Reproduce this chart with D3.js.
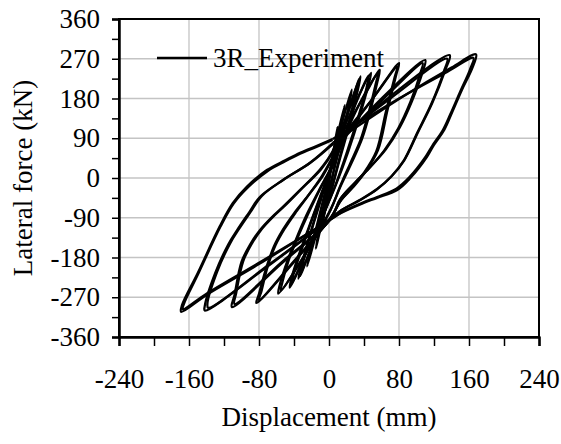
<!DOCTYPE html>
<html>
<head>
<meta charset="utf-8">
<script src="https://cdn.jsdelivr.net/npm/d3@7"></script>
<style>
  body { margin: 0; background: #fff; }
  text { font-family: "Liberation Serif", "Times New Roman", serif; fill: #000; }
</style>
</head>
<body>
<div id="chart"></div>
<script>
// tick values
const xTicks = [-240, -160, -80, 0, 80, 160, 240];
const xMinor = [-200, -120, -40, 40, 120, 200];
const yTicks = [-360, -270, -180, -90, 0, 90, 180, 270, 360];
const yMinor = [-315, -225, -135, -45, 45, 135, 225, 315];

// load cycles: [displacement mm, force kN]
const cycle01 = [[0,0],[5,60],[10,115],[8,95],[3,30],[-2,-40],[-8,-110],[-6,-90],[-1,-20],[3,40]];
const cycle02 = [[3,40],[10,100],[18,165],[16,140],[9,60],[0,-40],[-8,-100],[-15,-160],[-13,-135],[-6,-60],[2,20],[8,75]];
const cycle03 = [[8,75],[17,140],[26,200],[24,175],[16,100],[6,20],[-5,-60],[-15,-130],[-25,-200],[-22,-170],[-13,-100],[-3,-20],[6,50],[12,95]];
const cycle04 = [[12,95],[24,165],[36,230],[33,200],[24,125],[12,40],[0,-45],[-15,-130],[-35,-228],[-32,-200],[-22,-130],[-10,-50],[3,30],[14,100]];
const cycle04b = [[14,100],[24,160],[34,224],[31,196],[22,120],[11,38],[0,-48],[-15,-128],[-33,-222],[-30,-195],[-21,-126],[-9,-48],[3,30],[14,100]];
const cycle05 = [[14,100],[30,170],[48,238],[45,210],[35,140],[22,60],[8,-15],[-5,-75],[-25,-165],[-45,-248],[-42,-220],[-32,-160],[-20,-95],[-6,-20],[8,50],[18,110]];
const cycle05b = [[18,95],[30,165],[45,232],[43,205],[33,136],[20,56],[7,-18],[-5,-77],[-24,-160],[-43,-240],[-40,-214],[-30,-155],[-19,-92],[-5,-18],[8,48],[14,100]];
const cycle06 = [[18,110],[40,185],[58,245],[55,215],[47,150],[38,90],[26,35],[13,-20],[2,-70],[-28,-175],[-58,-262],[-56,-240],[-48,-190],[-38,-140],[-26,-85],[-12,-30],[4,30],[20,100]];
const cycle06b = [[15,82],[38,180],[56,238],[53,210],[45,146],[36,86],[24,32],[12,-22],[2,-72],[-27,-172],[-55,-255],[-53,-234],[-46,-186],[-36,-136],[-24,-82],[-11,-28],[4,28],[18,95]];
const cycle07 = [[20,100],[50,180],[80,260],[77,235],[67,155],[56,63],[42,15],[28,-20],[14,-50],[2,-90],[-40,-190],[-83,-283],[-80,-262],[-72,-205],[-63,-155],[-53,-118],[-40,-80],[-24,-40],[-8,5],[5,50],[15,85]];
const cycle07b = [[8,78],[48,175],[78,252],[75,228],[65,150],[54,60],[40,12],[26,-22],[13,-52],[2,-90],[-40,-188],[-80,-276],[-77,-255],[-70,-200],[-61,-152],[-51,-116],[-38,-78],[-23,-38],[-7,5],[5,48],[15,82]];
const cycle08 = [[15,85],[60,180],[110,267],[107,240],[95,175],[81,115],[65,65],[47,25],[30,-10],[14,-45],[1,-95],[-55,-195],[-111,-292],[-108,-265],[-100,-190],[-90,-150],[-79,-118],[-66,-90],[-53,-66],[-33,-27],[-10,20],[4,60],[8,80]];
const cycle08b = [[8,78],[60,175],[107,260],[104,235],[93,172],[79,112],[63,62],[46,22],[29,-12],[13,-47],[1,-95],[-55,-192],[-108,-285],[-106,-260],[-98,-188],[-88,-148],[-77,-116],[-64,-88],[-51,-64],[-32,-26],[-9,20],[4,58],[8,78]];
const cycle09 = [[8,80],[70,185],[138,278],[133,245],[118,170],[102,105],[86,40],[72,5],[55,-25],[35,-50],[15,-72],[0,-95],[-70,-200],[-142,-300],[-142,-290],[-130,-215],[-115,-150],[-105,-118],[-92,-80],[-79,-43],[-53,-5],[-22,34],[5,80]];
const cycle09b = [[5,80],[70,180],[135,270],[131,240],[117,168],[101,103],[85,38],[71,3],[54,-27],[34,-52],[14,-73],[0,-95],[-70,-198],[-138,-294],[-139,-285],[-128,-213],[-113,-148],[-103,-116],[-90,-78],[-77,-41],[-52,-4],[-21,35],[5,78]];
const cycle10 = [[5,80],[85,185],[140,250],[168,280],[164,250],[152,200],[141,150],[132,110],[120,75],[112,48],[93,0],[78,-27],[55,-45],[39,-57],[15,-78],[1,-95],[-80,-195],[-140,-265],[-169,-303],[-168,-288],[-150,-215],[-125,-110],[-110,-57],[-94,-20],[-71,18],[-50,40],[-33,57],[-15,72],[4,88]];
const cycle10b = [[4,88],[80,180],[135,240],[165,272],[161,245],[150,196],[139,146],[130,108],[118,73],[110,47],[92,2],[77,-24],[55,-43],[38,-56],[15,-77],[1,-95],[-80,-192],[-140,-262],[-167,-297],[-166,-286],[-149,-215],[-124,-110],[-109,-58],[-93,-22],[-70,16],[-50,38],[-33,55],[-15,70],[4,86]];

const cycles = [cycle01, cycle02, cycle03, cycle04, cycle04b, cycle05, cycle05b, cycle06, cycle06b,
    cycle07, cycle07b, cycle08, cycle08b, cycle09, cycle09b, cycle10, cycle10b];

const width = 561;
const height = 444;
const margin = {top: 19, right: 22, bottom: 107, left: 119};

const svg = d3.select("#chart")
    .append("svg")
    .attr("width", width)
    .attr("height", height);

const x = d3.scaleLinear()
    .domain([-240, 240])
    .range([margin.left, width - margin.right]);

const y = d3.scaleLinear()
    .domain([-360, 360])
    .range([height - margin.bottom, margin.top]);

// grid
const grid = svg.append("g").attr("class", "grid");
grid.selectAll(".gx")
    .data(xTicks)
    .enter()
    .append("line")
    .attr("x1", d => x(d)).attr("x2", d => x(d))
    .attr("y1", y(-360)).attr("y2", y(360))
    .attr("stroke", "#c4c4c4")
    .attr("stroke-width", 1.3);
grid.selectAll(".gy")
    .data(yTicks)
    .enter()
    .append("line")
    .attr("x1", x(-240)).attr("x2", x(240))
    .attr("y1", d => y(d)).attr("y2", d => y(d))
    .attr("stroke", "#c4c4c4")
    .attr("stroke-width", 1.3);

// hysteresis loops
const line = d3.line()
    .x(d => x(d[0]))
    .y(d => y(d[1]))
    .curve(d3.curveCatmullRom.alpha(0.5));

svg.append("g").attr("class", "loops")
    .selectAll("path")
    .data(cycles)
    .enter()
    .append("path")
    .attr("d", line)
    .attr("fill", "none")
    .attr("stroke", "#000")
    .attr("stroke-width", 2.3)
    .attr("stroke-linejoin", "round");

// frame
svg.append("rect")
    .attr("x", x(-240))
    .attr("y", y(360))
    .attr("width", x(240) - x(-240))
    .attr("height", y(-360) - y(360))
    .attr("fill", "none")
    .attr("stroke", "#000")
    .attr("stroke-width", 2);

// axes
const fontSize = 27;
const fmt = d => String(d);
const yAxis = d3.axisLeft(y).tickValues(yTicks).tickSize(7).tickPadding(12).tickFormat(fmt);
const yAxisMinor = d3.axisLeft(y).tickValues(yMinor).tickSize(7).tickFormat("");
const xAxis = d3.axisBottom(x).tickValues(xTicks).tickSize(9).tickPadding(23).tickFormat(fmt);
const xAxisMinor = d3.axisBottom(x).tickValues(xMinor).tickSize(9).tickFormat("");

[svg.append("g").call(yAxis), svg.append("g").call(yAxisMinor)]
    .forEach(g => g.attr("transform", `translate(${x(-240)},0)`));
[svg.append("g").call(xAxis), svg.append("g").call(xAxisMinor)]
    .forEach(g => g.attr("transform", `translate(0,${y(-360)})`));

svg.selectAll(".domain").attr("stroke", "#000").attr("stroke-width", 2);
svg.selectAll(".tick line").attr("stroke", "#000").attr("stroke-width", 1.5);
svg.selectAll(".tick text")
    .style("font-family", '"Liberation Serif", serif')
    .style("font-size", fontSize + "px")
    .attr("fill", "#000");

// axis titles
svg.append("text")
    .attr("x", x(0))
    .attr("y", 426)
    .attr("text-anchor", "middle")
    .style("font-size", fontSize + "px")
    .text("Displacement (mm)");

svg.append("text")
    .attr("transform", `translate(32, ${y(0)}) rotate(-90)`)
    .attr("text-anchor", "middle")
    .style("font-size", fontSize + "px")
    .text("Lateral force (kN)");

// legend
const legend = svg.append("g").attr("class", "legend");
legend.append("line")
    .attr("x1", 157).attr("x2", 207)
    .attr("y1", 58).attr("y2", 58)
    .attr("stroke", "#000")
    .attr("stroke-width", 2.3);
legend.append("text")
    .attr("x", 213)
    .attr("y", 67)
    .style("font-size", fontSize + "px")
    .text("3R_Experiment");
</script>
</body>
</html>
